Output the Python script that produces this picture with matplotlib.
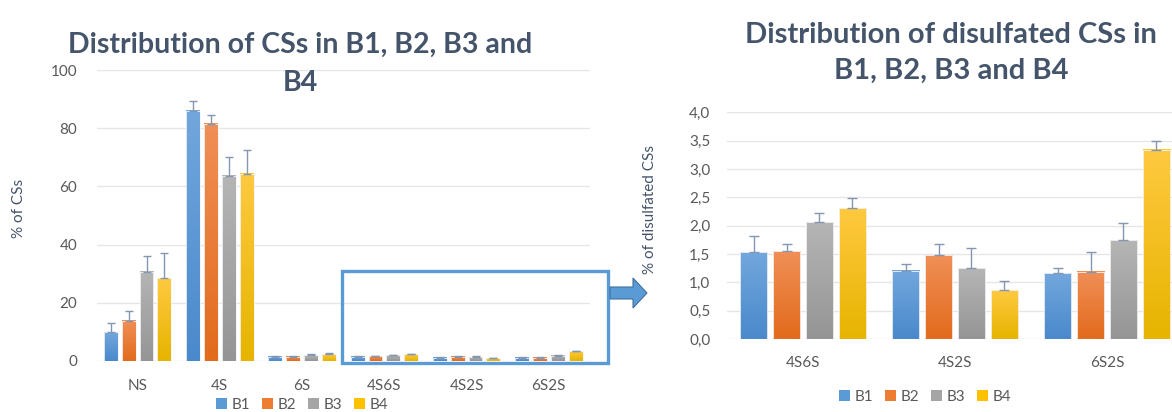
import numpy as np
import matplotlib
matplotlib.use('Agg')
import matplotlib.pyplot as plt
from matplotlib.patches import Rectangle, Polygon
from matplotlib.colors import to_rgb

# data
series = ['B1', 'B2', 'B3', 'B4']
all_cats = ['NS', '4S', '6S', '4S6S', '4S2S', '6S2S']
all_vals = [
    [9.8, 86.0, 1.5, 1.53, 1.20, 1.16],
    [13.9, 81.5, 1.5, 1.55, 1.48, 1.19],
    [30.6, 63.7, 2.0, 2.06, 1.25, 1.74],
    [28.5, 64.3, 2.3, 2.31, 0.86, 3.34],
]
all_err = [
    [3.2, 3.5, 0.2, 0.29, 0.13, 0.10],
    [3.2, 3.0, 0.2, 0.13, 0.20, 0.35],
    [5.5, 6.5, 0.3, 0.16, 0.36, 0.31],
    [8.6, 8.3, 0.3, 0.18, 0.17, 0.16],
]
di_cats = ['4S6S', '4S2S', '6S2S']
di_vals = [
    [1.53, 1.20, 1.16],
    [1.55, 1.48, 1.19],
    [2.06, 1.25, 1.74],
    [2.31, 0.86, 3.34],
]
di_err = [
    [0.29, 0.13, 0.10],
    [0.13, 0.20, 0.35],
    [0.16, 0.36, 0.31],
    [0.18, 0.17, 0.16],
]
left_yticks = [0, 20, 40, 60, 80, 100]
right_yticks = [0.0, 0.5, 1.0, 1.5, 2.0, 2.5, 3.0, 3.5, 4.0]
right_yticklabels = ['0,0', '0,5', '1,0', '1,5', '2,0', '2,5', '3,0', '3,5', '4,0']

base_cols = ['#5B9BD5', '#ED7D31', '#A5A5A5', '#FFC000']
top_cols = ['#72A7DD', '#F08F57', '#B5B5B5', '#FFC940']
bot_cols = ['#4A89CC', '#E26B1C', '#959595', '#E6B400']
title_col = '#44546A'
text_col = '#595959'
grid_col = '#E6E6E6'

plt.rcParams['font.family'] = ['Lato', 'DejaVu Sans']

W, H = 1172, 412
fig = plt.figure(figsize=(W / 100, H / 100), dpi=100)


def px_axes(x0, x1, ytop, ybot):
    return fig.add_axes([x0 / W, 1 - ybot / H, (x1 - x0) / W, (ybot - ytop) / H])


def grad_bars(ax, cats, vals, errs, width, pitch, capsize):
    x = np.arange(len(cats))
    handles = []
    for i in range(4):
        pos = x + (i - 1.5) * pitch
        bars = ax.bar(pos, vals[i], width, color=base_cols[i], label=series[i],
                      edgecolor='none', zorder=2)
        handles.append(bars)
        c0 = np.array(to_rgb(bot_cols[i]))
        c1 = np.array(to_rgb(top_cols[i]))
        t = np.linspace(0, 1, 64).reshape(-1, 1, 1)
        img = c0 + (c1 - c0) * t
        for r in bars:
            ax.imshow(img, extent=[r.get_x(), r.get_x() + r.get_width(), 0, r.get_height()],
                      origin='lower', aspect='auto', zorder=2.1, interpolation='bilinear')
            ax.add_patch(Rectangle((r.get_x(), 0), r.get_width(), r.get_height(),
                                   fill=False, edgecolor='#F5F5F5', lw=0.6, zorder=2.2))
        ax.errorbar(pos, vals[i], yerr=[np.zeros(len(cats)), errs[i]], fmt='none',
                    ecolor='#8497B0', elinewidth=1, capsize=capsize, capthick=1, zorder=3)
    ax.set_xticks(x)
    ax.set_xticklabels(cats)
    ax.set_xlim(-0.5, len(cats) - 0.5)
    for s in ax.spines.values():
        s.set_visible(False)
    ax.tick_params(length=0, colors=text_col, labelsize=11)
    ax.grid(axis='y', color=grid_col, lw=1, zorder=0)
    ax.set_axisbelow(True)
    return handles


# left chart
ax1 = px_axes(96.5, 590, 70, 361)
h1 = grad_bars(ax1, all_cats, all_vals, all_err, 0.17, 0.216, 3)
ax1.set_ylim(0, 100)
ax1.set_yticks(left_yticks)
ax1.tick_params(axis='y', pad=14)
ax1.tick_params(axis='x', pad=13)
fig.text(19 / W, 1 - 208 / H, '% of CSs', rotation=90, ha='center', va='center',
         color=title_col, fontsize=11)
fig.text(300 / W, 1 - 45 / H, 'Distribution of CSs in B1, B2, B3 and', ha='center',
         va='center', fontsize=20.5, fontweight='bold', color=title_col)
fig.text(300 / W, 1 - 83 / H, 'B4', ha='center', va='center', fontsize=20.5,
         fontweight='bold', color=title_col)
fig.legend(h1, series, loc='center', bbox_to_anchor=(302 / W, 1 - 405 / H), ncol=4,
           frameon=False, fontsize=11, handlelength=0.7, handleheight=0.7,
           handletextpad=0.3, columnspacing=0.8, labelcolor=text_col)

# right chart
ax2 = px_axes(727, 1183, 112.3, 339)
h2 = grad_bars(ax2, di_cats, di_vals, di_err, 0.178, 0.217, 3.6)
ax2.set_ylim(0, 4)
ax2.set_yticks(right_yticks)
ax2.set_yticklabels(right_yticklabels)
ax2.tick_params(axis='y', pad=12)
ax2.tick_params(axis='x', pad=12)
fig.text(650 / W, 1 - 210 / H, '% of disulfated CSs', rotation=90, ha='center', va='center',
         color=title_col, fontsize=11)
fig.text(951 / W, 1 - 35 / H, 'Distribution of disulfated CSs in', ha='center',
         va='center', fontsize=21, fontweight='bold', color=title_col)
fig.text(951 / W, 1 - 71 / H, 'B1, B2, B3 and B4', ha='center', va='center', fontsize=21,
         fontweight='bold', color=title_col)
fig.legend(h2, series, loc='center', bbox_to_anchor=(925 / W, 1 - 397 / H), ncol=4,
           frameon=False, fontsize=11, handlelength=0.7, handleheight=0.7,
           handletextpad=0.3, columnspacing=0.8, labelcolor=text_col)

# zoom box and arrow
fig.add_artist(Rectangle((342 / W, 1 - 363 / H), (608 - 342) / W, (363 - 271) / H,
                         transform=fig.transFigure, fill=False, edgecolor='#5B9BD5',
                         lw=2.4, zorder=5))
arrow_px = [(610, 287), (633, 287), (633, 278), (647, 293), (633, 308), (633, 299), (610, 299)]
fig.add_artist(Polygon([(x / W, 1 - y / H) for x, y in arrow_px], closed=True,
                       transform=fig.transFigure, facecolor='#5B9BD5',
                       edgecolor='#41719C', lw=0.8, zorder=5))

fig.savefig('out.png', dpi=100)
